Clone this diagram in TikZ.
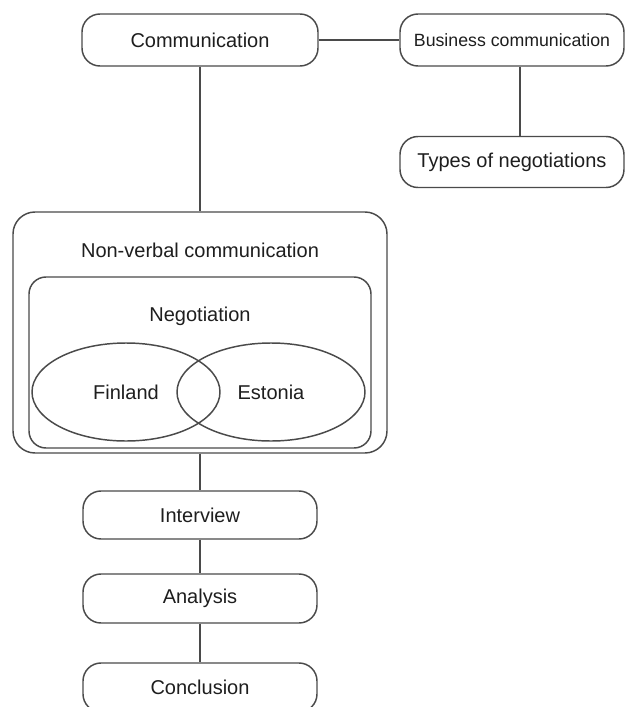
\documentclass[tikz,border=0pt]{standalone}
\usepackage{fontspec}
\setmainfont{Liberation Sans}
\usetikzlibrary{shapes.geometric}
\definecolor{lc}{HTML}{4A4A4A}
\definecolor{tc}{HTML}{1E1E1E}
\begin{document}
\begin{tikzpicture}[x=0.75pt,y=-0.75pt,
  box/.style={draw=lc, line width=1.1pt, rounded corners=18*0.75pt, inner sep=0pt,
    text=tc, font=\fontsize{15}{18}\selectfont},
  bigbox/.style={draw=lc, line width=1.1pt, inner sep=0pt},
  oval/.style={ellipse, draw=lc, line width=1.1pt, inner sep=0pt,
    minimum width=188*0.75pt, minimum height=98*0.75pt,
    text=tc, font=\fontsize{15}{18}\selectfont},
  title/.style={text=tc, font=\fontsize{15}{18}\selectfont, inner sep=0pt},
  conn/.style={draw=lc, line width=1.1pt}]
\fill[white] (0,0) rectangle (627,707);
\useasboundingbox (0,0) rectangle (627,707);

\node[box, minimum width=236*0.75pt, minimum height=52*0.75pt] (comm) at (200,40) {Communication};
\node[box, minimum width=224*0.75pt, minimum height=52*0.75pt,
  font=\fontsize{13.3}{16}\selectfont] (bus) at (512,40) {Business communication};
\node[box, minimum width=224*0.75pt, minimum height=51*0.75pt] (types) at (512,162) {Types of negotiations};

\node[bigbox, rounded corners=22*0.75pt, minimum width=374*0.75pt, minimum height=241*0.75pt] (outer) at (200,332.5) {};
\node[title] (nvt) at (200,250) {Non-verbal communication};
\node[bigbox, rounded corners=17*0.75pt, minimum width=342*0.75pt, minimum height=171*0.75pt] (inner) at (200,362.5) {};
\node[title] (negt) at (200,316) {Negotiation};
\node[oval] (fin) at (126,392) {Finland};
\node[oval] (est) at (271,392) {Estonia};

\node[box, minimum width=234*0.75pt, minimum height=48*0.75pt] (int) at (200,515) {Interview};
\node[box, minimum width=234*0.75pt, minimum height=49*0.75pt] (ana) at (200,598.5) {Analysis};
\node[box, minimum width=234*0.75pt, minimum height=49*0.75pt] (con) at (200,687.5) {Conclusion};

\draw[conn] (comm.east) -- (bus.west);
\draw[conn] ([xshift=8*0.75pt]bus.south) -- ([xshift=8*0.75pt]types.north);
\draw[conn] (comm.south) -- (outer.north);
\draw[conn] (outer.south) -- (int.north);
\draw[conn] (int.south) -- (ana.north);
\draw[conn] (ana.south) -- (con.north);
\end{tikzpicture}
\end{document}
